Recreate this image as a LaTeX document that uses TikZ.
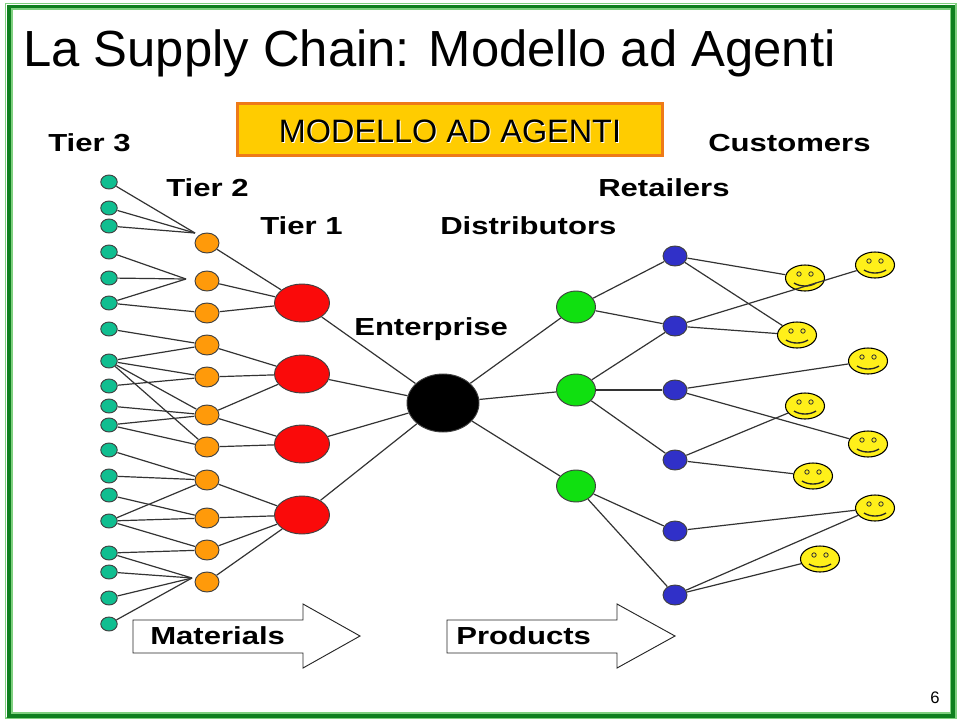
\documentclass[tikz,border=0pt]{standalone}
\usepackage{fontspec}
\setmainfont{Liberation Sans}
\newfontfamily\widebold[FakeStretch=1.26]{Liberation Sans Bold}
\usetikzlibrary{shapes.geometric}
\definecolor{framedark}{HTML}{0F7F1F}
\definecolor{framelight}{HTML}{7FD07F}
\definecolor{tealnode}{HTML}{10BE90}
\definecolor{orangenode}{HTML}{FF9A0A}
\definecolor{rednode}{HTML}{FA0A0A}
\definecolor{greennode}{HTML}{10E010}
\definecolor{bluenode}{HTML}{3030C8}
\definecolor{smileface}{HTML}{FFF01A}
\definecolor{bannerfill}{HTML}{FFCC00}
\definecolor{bannerline}{HTML}{EE7A18}
\definecolor{linkgray}{HTML}{333333}
\tikzset{
  blob/.style={ellipse,draw=black!75,line width=.7pt,inner sep=0pt,outer sep=.5pt},
  tthree/.style={blob,fill=tealnode,minimum width=16.5*.75pt,minimum height=14*.75pt},
  ttwo/.style={blob,fill=orangenode,minimum width=24*.75pt,minimum height=20*.75pt},
  tone/.style={blob,fill=rednode,minimum width=55*.75pt,minimum height=38*.75pt},
  core/.style={blob,fill=black,minimum width=72*.75pt,minimum height=58*.75pt},
  dist/.style={blob,fill=greennode,minimum width=39*.75pt,minimum height=32*.75pt},
  retail/.style={blob,fill=bluenode,minimum width=24*.75pt,minimum height=20*.75pt},
  face/.style={blob,fill=smileface,draw=black,line width=.8pt,minimum width=39*.75pt,minimum height=26*.75pt},
  link/.style={draw=linkgray,line width=.9pt},
  stagelabel/.style={font=\widebold\fontsize{18.5}{20}\selectfont,inner sep=0pt,anchor=west,text=black},
  flow/.style={draw=black!85,line width=.7pt,fill=white}
}
\newcommand{\smiley}[3]{%
  \node[face] (#1) at (#2,#3) {};
  \draw[black!80,line width=.6pt] (#2-6,#3-4) circle (2.2);
  \draw[black!80,line width=.6pt] (#2+6,#3-4) circle (2.2);
  \draw[black!85,line width=1pt] (#2-11,#3+5) .. controls (#2-5,#3+9) and (#2+5,#3+9) .. (#2+11,#3+5);
}
\begin{document}
\begin{tikzpicture}[x=.75pt,y=-.75pt]
\useasboundingbox (0,0) rectangle (959,721);
% page frame
\draw[framelight,line width=.9pt] (5.5,3.5) rectangle (956,718);
\draw[framedark,line width=3pt] (9,6.5) rectangle (953,715.5);
\draw[framelight,line width=.9pt] (12,9) rectangle (950.5,713);

% headings
\node[anchor=base west,inner sep=0pt,font=\fontsize{38.1}{42}\selectfont] (title) at (23,66) {La Supply Chain: Modello ad Agenti};
\node[draw=bannerline,line width=1.8pt,fill=bannerfill,minimum width=425*.75pt,minimum height=52*.75pt,inner sep=0pt] (banner) at (450,129.5) {};
\node[font=\fontsize{24.3}{28}\selectfont,text=white,inner sep=0pt] (bannershade) at (451,132) {MODELLO AD AGENTI};
\node[font=\fontsize{24.3}{28}\selectfont,text=black,inner sep=0pt] (bannertext) at (450,131) {MODELLO AD AGENTI};

% tier 3 suppliers
\foreach \n/\y in {1/182,2/208,3/226,4/252,5/278,6/303,7/329,8/361,9/386,10/406,11/425,12/450,13/476,14/495,15/521,16/553,17/572,18/598,19/624}
  \node[tthree] (a\n) at (109,\y) {};
% tier 2 suppliers
\foreach \n/\y in {1/243,2/281,3/313,4/345,5/377,6/415,7/447,8/480,9/518,10/550,11/582}
  \node[ttwo] (b\n) at (207,\y) {};
% tier 1 suppliers
\foreach \n/\y in {1/303,2/374,3/444,4/515}
  \node[tone] (c\n) at (302,\y) {};
% enterprise
\node[core] (e) at (443,403) {};
% distributors
\foreach \n/\y in {1/307,2/390,3/486}
  \node[dist] (d\n) at (576,\y) {};
% retailers
\foreach \n/\y in {1/256,2/326,3/390,4/460,5/531,6/595}
  \node[retail] (r\n) at (675,\y) {};
% customers
\smiley{s1}{805}{278}
\smiley{s2}{875}{265}
\smiley{s3}{797}{335}
\smiley{s4}{868}{361}
\smiley{s5}{805}{406}
\smiley{s6}{868}{444}
\smiley{s7}{813}{476}
\smiley{s8}{875}{508}
\smiley{s9}{820}{559}

% points where several links gather in front of a node
\coordinate (j1) at (195,233);
\coordinate (j2) at (186,279);
\coordinate (j11) at (192,578);

% links
\foreach \p/\q in {a1/j1,a2/j1,a3/j1,a4/j2,a5/j2,a6/j2,a6/b3,a7/b4,a8/b4,a8/b5,a9/b5,a8/b6,a8/b7,a10/b6,a11/b6,a11/b7,a12/b8,a13/b8,a14/b9,a15/b8,a15/b9,a15/b10,a16/b10,a16/j11,a17/j11,a18/j11,a19/j11,
  b1/c1,b2/c1,b3/c1,b4/c2,b5/c2,b6/c2,b6/c3,b7/c3,b8/c4,b9/c4,b10/c4,b11/c4,
  c1/e,c2/e,c3/e,c4/e,e/d1,e/d2,e/d3,
  d1/r1,d1/r2,d2/r2,d2/r3,d2/r4,d3/r5,d3/r6,
  r1/s1,r1/s3,r2/s2,r2/s3,r3/s4,r3/s6,r4/s5,r4/s7,r5/s8,r6/s8,r6/s9}
  \draw[link] (\p) -- (\q);

% stage captions
\node[stagelabel] (t3) at (48,143) {Tier 3};
\node[stagelabel] (t2) at (166,188) {Tier 2};
\node[stagelabel] (t1) at (260,226) {Tier 1};
\node[stagelabel] (lent) at (354,329) {Enterprise};
\node[stagelabel] (ldist) at (440,226) {Distributors};
\node[stagelabel] (lret) at (598,188) {Retailers};
\node[stagelabel] (lcust) at (708,143) {Customers};

% flow arrows
\draw[flow] (133,620) -- (303,620) -- (303,604) -- (360,636) -- (303,668) -- (303,653) -- (133,653) -- cycle;
\node[stagelabel] (lmat) at (150,636) {Materials};
\draw[flow] (447,620) -- (617,620) -- (617,604) -- (675,636) -- (617,668) -- (617,653) -- (447,653) -- cycle;
\node[stagelabel] (lprod) at (456,636) {Products};

% page number
\node[font=\fontsize{12.5}{14}\selectfont,inner sep=0pt] (page) at (935,698) {6};
\end{tikzpicture}
\end{document}
